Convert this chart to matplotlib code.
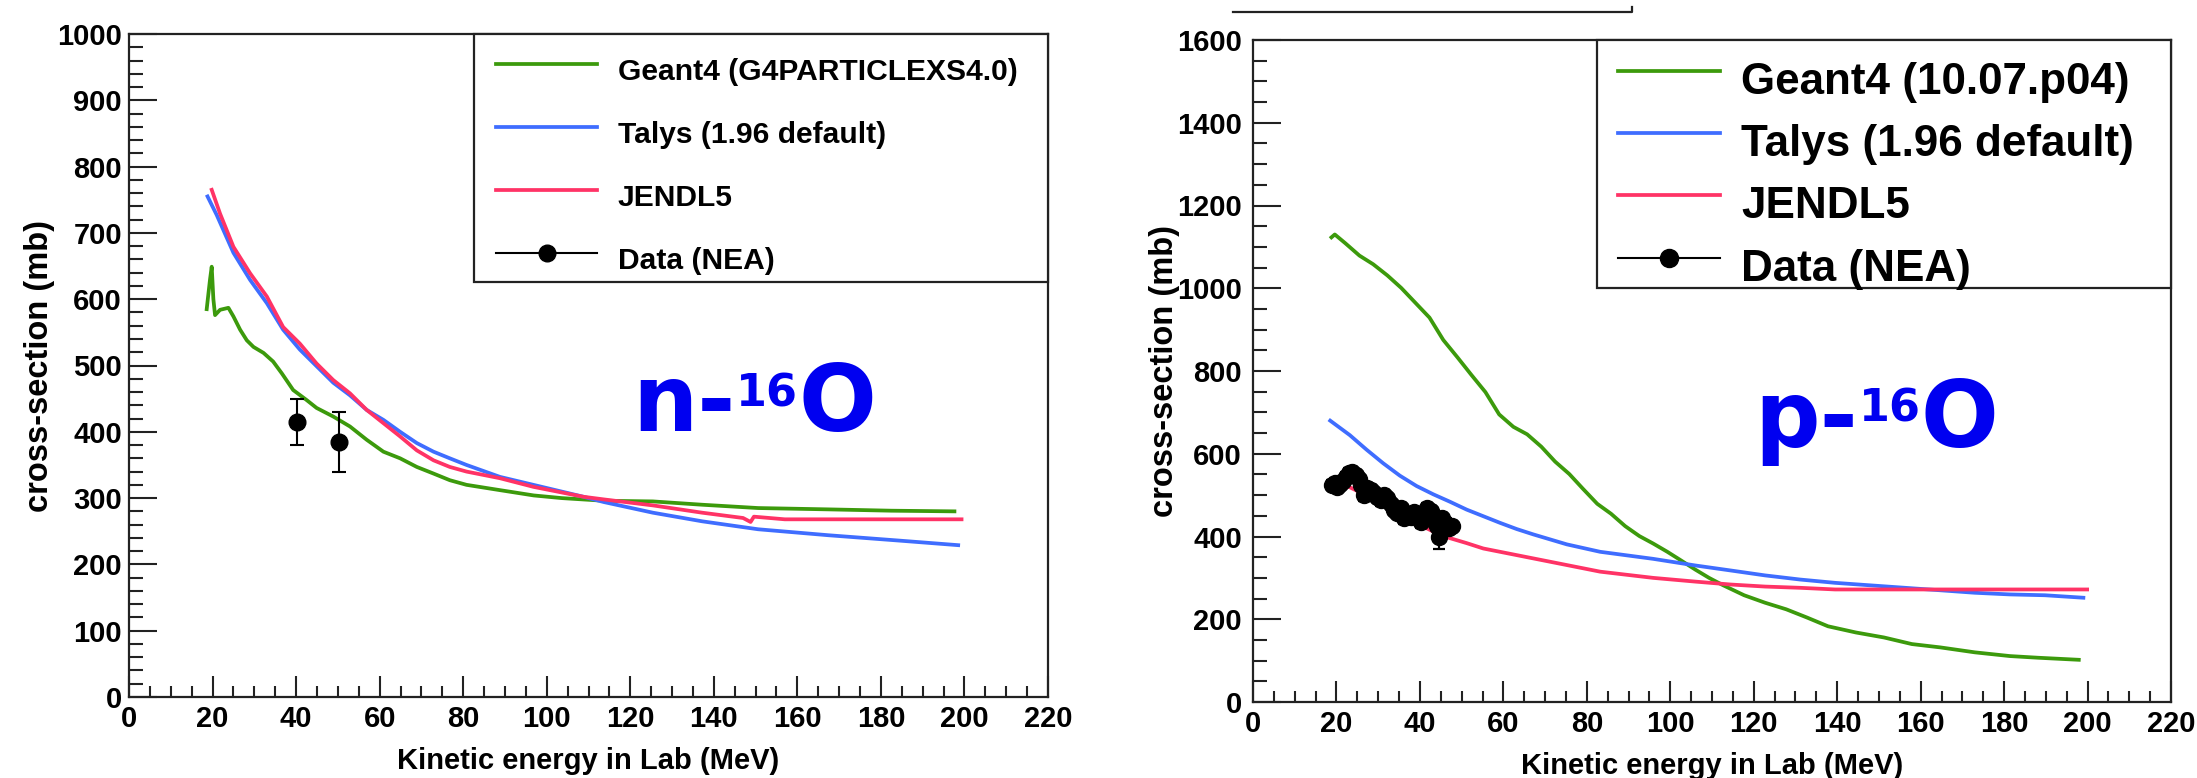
import matplotlib
matplotlib.use('Agg')
import matplotlib.pyplot as plt
from matplotlib.lines import Line2D
from matplotlib.patches import Rectangle
from matplotlib.ticker import MultipleLocator

# ---------------- data: n-16O (left) ----------------
n_g4_E = [18.6, 18.9, 19.4, 19.8, 20.2, 20.6, 21.8, 23.8, 25.0, 26.6, 28.2, 29.8, 32.2, 34.5,
          36.6, 39.3, 42.5, 44.9, 48.9, 52.9, 56.9, 60.9, 64.9, 68.9, 72.9, 76.8, 80.8, 88.8,
          96.9, 103.6, 113.7, 125.4, 137.2, 150.6, 167.4, 182.5, 197.6]
n_g4_xs = [585, 602, 630, 649, 600, 576, 584, 587, 574, 554, 538, 528, 519, 506,
           488, 463, 448, 436, 423, 408, 388, 370, 360, 347, 337, 327, 320, 312,
           304, 300, 296, 295, 290, 285, 283, 281, 280]

n_talys_E = [18.8, 21.0, 25.0, 29.0, 33.0, 36.9, 40.9, 44.9, 48.9, 52.9, 56.9, 60.9, 64.9,
             68.9, 72.9, 76.8, 80.8, 88.8, 96.8, 108.8, 113.7, 125.4, 137.2, 150.6, 167.4,
             184.2, 198.5]
n_talys_xs = [755, 727, 670, 629, 594, 554, 524, 499, 474, 455, 433, 418, 400,
              383, 370, 360, 350, 332, 320, 302, 294, 278, 265, 253, 244,
              236, 229]

n_jendl_E = [19.8, 21.8, 25.0, 29.0, 33.0, 36.9, 40.9, 44.9, 48.9, 52.9, 56.9, 60.9, 64.9,
             68.9, 72.9, 76.8, 80.8, 88.8, 96.8, 108.8, 113.7, 125.4, 137.2, 147.0, 148.8,
             149.6, 157.0, 199.3]
n_jendl_xs = [765, 729, 679, 639, 604, 558, 533, 503, 478, 458, 433, 413, 393,
              372, 357, 347, 340, 330, 317, 302, 298, 289, 278, 270, 264,
              272, 268, 268]

n_data_E = [40.1, 50.3]
n_data_xs = [415, 385]
n_data_err = [35, 45]

# ---------------- data: p-16O (right) ----------------
p_g4_E = [18.8, 19.6, 22.1, 25.5, 28.8, 32.2, 35.5, 38.9, 42.3, 45.6, 49.0, 52.3, 55.7, 59.0,
          62.4, 65.7, 69.1, 72.4, 75.8, 79.1, 82.5, 85.8, 89.2, 92.6, 95.9, 99.3, 102.6, 106.0,
          109.3, 112.7, 117.7, 122.7, 127.8, 132.8, 137.8, 144.5, 151.2, 157.9, 164.7, 173.0,
          181.4, 188.1, 197.9]
p_g4_xs = [1123, 1130, 1109, 1079, 1058, 1031, 1001, 965, 929, 875, 833, 791, 749, 695,
           665, 647, 617, 581, 551, 515, 479, 455, 425, 401, 383, 363, 342, 320,
           300, 282, 258, 240, 224, 204, 183, 168, 156, 140, 132, 120,
           111, 107, 102]

p_talys_E = [18.5, 23.2, 27.2, 31.2, 35.2, 39.2, 43.2, 47.2, 51.2, 55.2, 59.2, 63.2, 67.2,
             71.2, 75.2, 79.2, 83.2, 95.9, 106.0, 114.4, 122.7, 131.1, 139.5, 147.9, 156.3,
             164.7, 173.0, 181.4, 189.8, 199.0]
p_talys_xs = [680, 645, 610, 577, 547, 522, 502, 484, 465, 449, 433, 418, 405,
              393, 381, 372, 363, 346, 330, 318, 306, 296, 288, 282, 276,
              270, 264, 260, 258, 252]

p_jendl_E = [19.0, 25.0, 30.0, 35.0, 40.0, 44.0, 47.2, 51.2, 55.2, 59.2, 63.2, 67.2, 71.2,
             75.2, 79.2, 83.2, 95.9, 106.0, 114.4, 122.7, 131.1, 139.5, 164.7, 199.9]
p_jendl_xs = [540, 510, 482, 455, 428, 408, 396, 384, 371, 363, 355, 347, 339,
              331, 323, 315, 300, 291, 284, 279, 276, 272, 272, 272]

p_data_E = [19.0, 19.6, 20.2, 20.8, 21.5, 22.2, 23.0, 23.8, 24.6, 25.4, 26.0, 26.6, 27.4,
            28.2, 29.0, 29.8, 30.6, 31.4, 32.2, 33.0, 33.8, 34.6, 35.4, 36.2, 37.0, 37.8,
            38.6, 39.4, 40.2, 41.0, 41.8, 42.6, 43.4, 44.2, 44.6, 45.4, 46.2, 47.0, 47.8]
p_data_xs = [525, 530, 520, 528, 535, 545, 553, 555, 549, 540, 525, 500, 518,
             512, 505, 495, 488, 500, 494, 478, 465, 458, 470, 445, 455, 448,
             460, 455, 435, 442, 470, 462, 440, 425, 400, 445, 430, 420, 425]
p_data_err = [12, 12, 12, 12, 12, 12, 12, 12, 12, 12, 12, 15, 12,
              12, 12, 12, 15, 12, 12, 12, 12, 12, 12, 15, 12, 12,
              12, 12, 15, 12, 12, 12, 15, 12, 30, 12, 15, 12, 12]

legend_L = ["Geant4 (G4PARTICLEXS4.0)", "Talys (1.96 default)", "JENDL5", "Data (NEA)"]
legend_R = ["Geant4 (10.07.p04)", "Talys (1.96 default)", "JENDL5", "Data (NEA)"]
xlabel = "Kinetic energy in Lab (MeV)"
ylabel = "cross-section (mb)"
tag_L = ("n-", "16", "O")
tag_R = ("p-", "16", "O")

C_G4 = '#3c9a0c'
C_TAL = '#3f6dff'
C_JEN = '#ff3366'
C_DAT = 'black'
C_TXT = '#0000f0'

plt.rcParams['font.family'] = ['Liberation Sans', 'DejaVu Sans']
plt.rcParams['font.weight'] = 'bold'

W, H = 2197, 778
fig = plt.figure(figsize=(W / 100, H / 100), dpi=100)


def rect(l, t, r, b):
    return [l / W, 1 - b / H, (r - l) / W, (b - t) / H]


axL = fig.add_axes(rect(129, 34, 1048, 697))
axR = fig.add_axes(rect(1253, 40, 2171, 702))
boxes = {axL: (129, 34, 1048, 697), axR: (1253, 40, 2171, 702)}


def fx(ax, px):
    l, t, r, b = boxes[ax]
    return (px - l) / (r - l)


def fy(ax, py):
    l, t, r, b = boxes[ax]
    return (b - py) / (b - t)


def style(ax, ymax, ymaj, ymin, ypad, ylx):
    ax.set_xlim(0, 220)
    ax.set_ylim(0, ymax)
    ax.xaxis.set_major_locator(MultipleLocator(20))
    ax.xaxis.set_minor_locator(MultipleLocator(5))
    ax.yaxis.set_major_locator(MultipleLocator(ymaj))
    ax.yaxis.set_minor_locator(MultipleLocator(ymin))
    ax.tick_params(which='both', direction='in', top=False, right=False,
                   width=1.5, color='#222222')
    ax.tick_params(axis='y', which='major', length=20, pad=ypad, labelsize=21)
    ax.tick_params(axis='y', which='minor', length=10)
    ax.tick_params(axis='x', which='major', length=15, pad=5.5, labelsize=21)
    ax.tick_params(axis='x', which='minor', length=8)
    for s in ax.spines.values():
        s.set_linewidth(1.6)
        s.set_color('#222222')
    for lab in ax.get_xticklabels() + ax.get_yticklabels():
        lab.set_fontweight('bold')
    ax.set_xlabel(xlabel, fontsize=21, fontweight='bold')
    ax.set_ylabel(ylabel, fontsize=23.5, fontweight='bold')
    ax.xaxis.set_label_coords(0.5, -0.075)
    ax.yaxis.set_label_coords(ylx, 0.5)


style(axL, 1000, 100, 20, 5, -0.081)
style(axR, 1600, 200, 50, 8, -0.080)

LW = 2.7
# left curves
axL.plot(n_g4_E, n_g4_xs, color=C_G4, lw=LW)
axL.plot(n_talys_E, n_talys_xs, color=C_TAL, lw=LW)
axL.plot(n_jendl_E, n_jendl_xs, color=C_JEN, lw=LW)
axL.errorbar(n_data_E, n_data_xs, yerr=n_data_err, fmt='o', color=C_DAT, ms=12,
             elinewidth=1.5, capsize=5, capthick=1.5)

# right curves
axR.plot(p_g4_E, p_g4_xs, color=C_G4, lw=LW)
axR.plot(p_talys_E, p_talys_xs, color=C_TAL, lw=LW)
axR.plot(p_jendl_E, p_jendl_xs, color=C_JEN, lw=LW)
axR.errorbar(p_data_E, p_data_xs, yerr=p_data_err, fmt='o', color=C_DAT, ms=11.5,
             elinewidth=1.6, capsize=4, capthick=1.6)


def legend(ax, box, rows, lx0, lx1, tx, fs, labels, ms):
    l, t, r, b = box
    ax.add_patch(Rectangle((fx(ax, l), fy(ax, b)), fx(ax, r) - fx(ax, l), fy(ax, t) - fy(ax, b),
                           transform=ax.transAxes, fill=True, facecolor='white',
                           edgecolor='#222222', lw=1.6, zorder=5, clip_on=False))
    colors = [C_G4, C_TAL, C_JEN, C_DAT]
    for i, (ry, lab, c) in enumerate(zip(rows, labels, colors)):
        lw = LW if i < 3 else 1.5
        ax.add_line(Line2D([fx(ax, lx0), fx(ax, lx1)], [fy(ax, ry), fy(ax, ry)],
                           transform=ax.transAxes, color=c, lw=lw, zorder=6, clip_on=False))
        if i == 3:
            ax.add_line(Line2D([fx(ax, (lx0 + lx1) / 2)], [fy(ax, ry)], transform=ax.transAxes,
                               marker='o', ms=ms, color=c, zorder=7, clip_on=False))
        ax.text(fx(ax, tx), fy(ax, ry + fs * 0.52), lab, transform=ax.transAxes,
                fontsize=fs * 0.72, fontweight='bold', va='baseline', ha='left', zorder=7)


legend(axL, (474, 34, 1048, 282), [64, 127, 190, 253], 496, 597, 618, 30, legend_L, 12)
legend(axR, (1597, 40, 2171, 288), [71, 133, 195, 258], 1618, 1720, 1741, 44, legend_R, 13)

# big nucleus labels, composed of base text + small raised mass number
fig.canvas.draw()
renderer = fig.canvas.get_renderer()


def tag(parts, x0, base, big=66, small=32, rise=25):
    x = x0
    for k, (s, fsz, dy) in enumerate(zip(parts, (big, small, big), (0, rise, 0))):
        t = fig.text(x / W, 1 - (base - dy) / H, s, fontsize=fsz,
                     fontweight='bold', family='DejaVu Sans', color=C_TXT,
                     ha='left', va='baseline')
        bb = t.get_window_extent(renderer)
        x = bb.x1 + (1 if k == 0 else 0)


tag(tag_L, 632, 431)
tag(tag_R, 1754, 447)

# cropped box edge at the top
fig.add_artist(Line2D([1233 / W, 1632 / W, 1632 / W], [1 - 12 / H, 1 - 12 / H, 1 - 7 / H],
                      transform=fig.transFigure, color='#222222', lw=1.6))

fig.savefig('out.png', dpi=100)
